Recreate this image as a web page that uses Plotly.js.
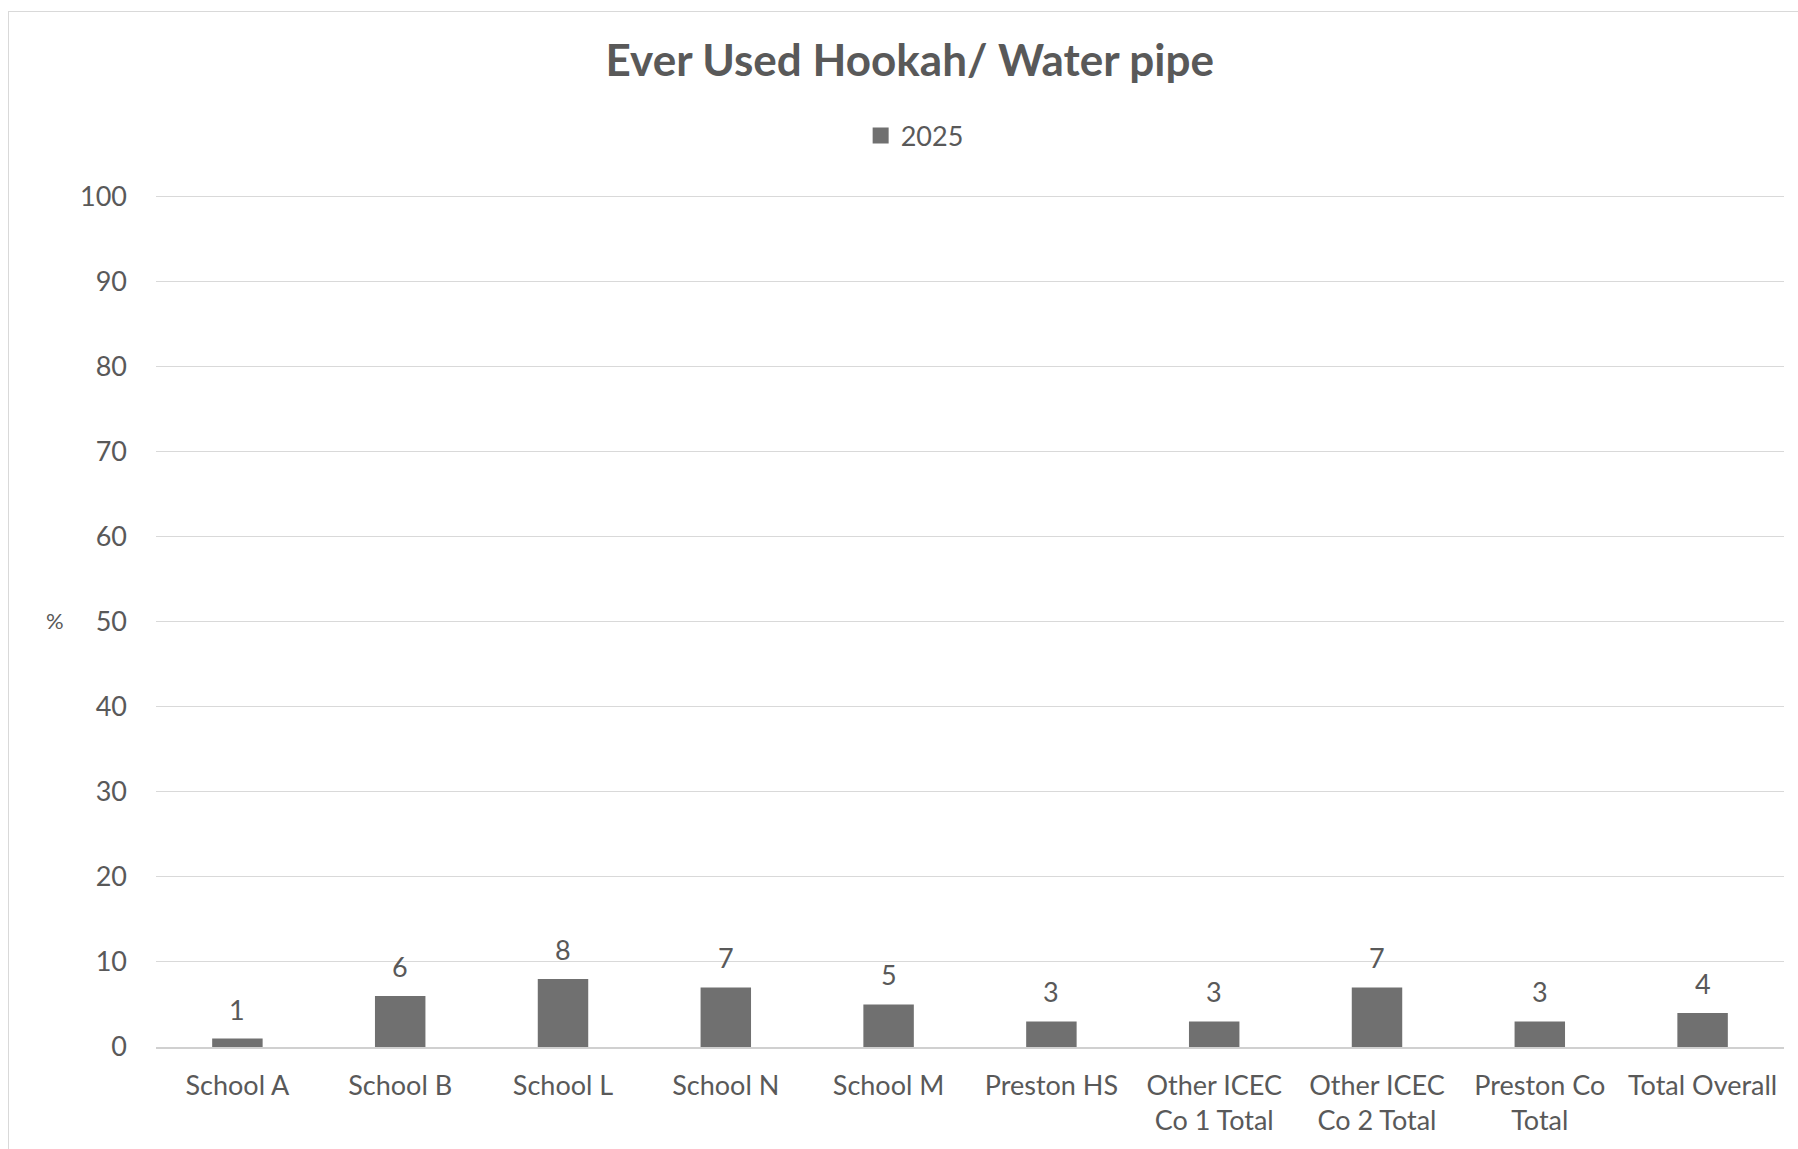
<!DOCTYPE html>
<html>
<head>
<meta charset="utf-8">
<script src="https://cdn.plot.ly/plotly-3.0.1.min.js"></script>
<style>
  html, body { margin: 0; padding: 0; background: #ffffff; overflow: hidden; }
  #wrap { position: relative; width: 1798px; height: 1149px; }
  #frame { position: absolute; left: 8px; top: 11px; width: 1820px; height: 1200px; border: 1.5px solid #d9d9d9; box-sizing: border-box; }
  #chart { position: absolute; left: 0; top: 0; width: 1798px; height: 1149px; }
</style>
</head>
<body>
<div id="wrap">
  <div id="frame"></div>
  <div id="chart"></div>
</div>
<script>
const categories = ["School A", "School B", "School L", "School N", "School M", "Preston HS",
  "Other ICEC<br>Co 1 Total", "Other ICEC<br>Co 2 Total", "Preston Co<br>Total", "Total Overall"];
const values2025 = [1, 6, 8, 7, 5, 3, 3, 7, 3, 4];
const seriesName = "2025";
const yTicks = [0, 10, 20, 30, 40, 50, 60, 70, 80, 90, 100];

const FONT = "Lato, 'Open Sans', sans-serif";
const TXT = "#595959";
const BAR = "#707070";

const barTrace = {
  type: "bar",
  x: categories,
  y: values2025,
  name: seriesName,
  marker: { color: BAR },
  showlegend: false,
  hoverinfo: "x+y"
};

// legend-only entry with a larger square swatch
const legendTrace = {
  type: "scatter",
  mode: "markers",
  x: [null],
  y: [null],
  name: seriesName,
  marker: { symbol: "square", size: 16, color: BAR },
  showlegend: true,
  hoverinfo: "skip"
};

const valueLabels = categories.map((c, i) => ({
  x: c,
  y: values2025[i],
  xref: "x", yref: "y",
  text: String(values2025[i]),
  showarrow: false,
  xanchor: "center",
  yanchor: "bottom",
  yshift: 11,
  font: { family: FONT, size: 27, color: TXT }
}));

const layout = {
  width: 1798,
  height: 1149,
  margin: { l: 156, r: 14, t: 194, b: 102 },
  paper_bgcolor: "rgba(0,0,0,0)",
  plot_bgcolor: "rgba(0,0,0,0)",
  font: { family: FONT, color: TXT, size: 27 },
  title: {
    text: "<b>Ever Used Hookah/ Water pipe</b>",
    font: { family: FONT, size: 44, color: TXT },
    x: 0.506, xref: "container", xanchor: "center",
    y: 1 - 61 / 1149, yref: "container", yanchor: "middle"
  },
  showlegend: true,
  legend: {
    orientation: "h",
    x: 0.466, xanchor: "center",
    y: 1.068, yanchor: "middle",
    font: { family: FONT, size: 27, color: TXT },
    itemwidth: 30
  },
  bargap: 0.69,
  xaxis: {
    type: "category",
    tickfont: { family: FONT, size: 27, color: TXT },
    showgrid: false,
    showline: true,
    linecolor: "#d0d0d0",
    linewidth: 1.5,
    ticks: "",
    ticklabelstandoff: 14,
    automargin: false
  },
  yaxis: {
    range: [0, 100.3],
    tickvals: yTicks,
    ticktext: yTicks.map(String),
    tickfont: { family: FONT, size: 27, color: TXT },
    showgrid: true,
    gridcolor: "#d9d9d9",
    gridwidth: 1,
    zeroline: false,
    showline: false,
    ticks: "",
    ticklabelstandoff: 28,
    automargin: false
  },
  annotations: valueLabels.concat([{
    text: "%",
    xref: "paper", yref: "paper",
    x: (55 - 156) / 1628, y: 0.5,
    xanchor: "center", yanchor: "middle",
    showarrow: false,
    font: { family: FONT, size: 22, color: TXT }
  }])
};

Plotly.newPlot("chart", [barTrace, legendTrace], layout, { displayModeBar: false });
</script>
</body>
</html>
